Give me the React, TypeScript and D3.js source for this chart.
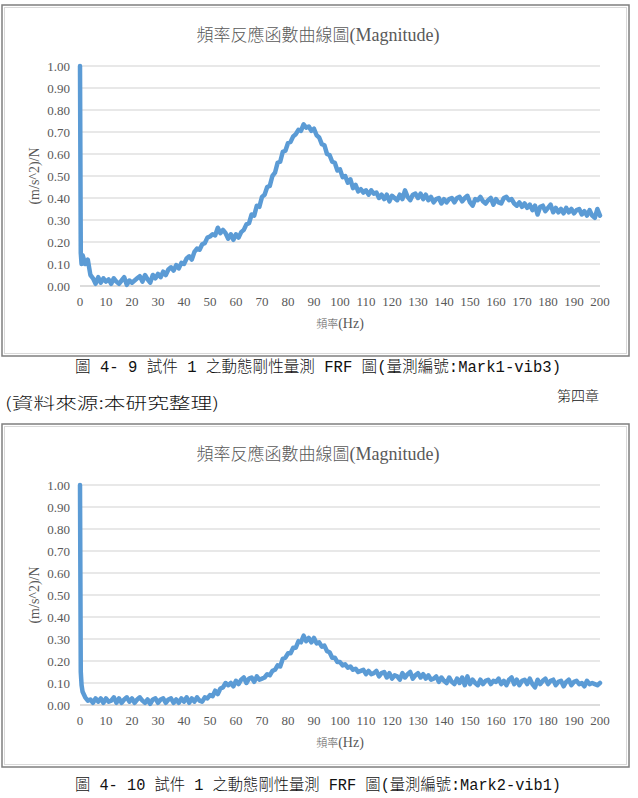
import React from "react";
import * as d3 from "d3";

const titleCJK = "頻率反應函數曲線圖";
const titleLatin = "(Magnitude)";
const yAxisTitle = "(m/s^2)/N";
const xAxisTitleCJK = "頻率";
const xAxisTitleLatin = "(Hz)";
const xTicks = [0, 10, 20, 30, 40, 50, 60, 70, 80, 90, 100, 110, 120, 130, 140, 150, 160, 170, 180, 190, 200];
const yTicks = [0, 0.1, 0.2, 0.3, 0.4, 0.5, 0.6, 0.7, 0.8, 0.9, 1.0];
const caption1 = "圖 4- 9 試件 1 之動態剛性量測 FRF 圖(量測編號:Mark1-vib3)";
const caption2 = "圖 4- 10 試件 1 之動態剛性量測 FRF 圖(量測編號:Mark2-vib1)";
const sourceNote = "(資料來源:本研究整理)";
const chapterNote = "第四章";

// low-frequency head (Hz) and values
const headFreq = [0, 0.3, 0.6];
const head1 = [1.0, 0.15, 0.1];
const head2 = [1.0, 0.15, 0.09];
// values at 1..200 Hz
const bodyFreq = d3.range(1, 201);
const series1 = [
  0.14, 0.10, 0.12, 0.05, 0.035, 0.01, 0.04, 0.015, 0.035, 0.02,
  0.03, 0.01, 0.035, 0.02, 0.01, 0.025, 0.04, 0.005, 0.025, 0.015,
  0.025, 0.035, 0.045, 0.02, 0.05, 0.03, 0.015, 0.05, 0.035, 0.055,
  0.04, 0.065, 0.05, 0.075, 0.085, 0.07, 0.095, 0.08, 0.105, 0.10,
  0.125, 0.135, 0.12, 0.155, 0.17, 0.165, 0.19, 0.195, 0.22, 0.225,
  0.235, 0.23, 0.265, 0.24, 0.255, 0.24, 0.215, 0.235, 0.21, 0.235,
  0.22, 0.245, 0.255, 0.28, 0.285, 0.325, 0.32, 0.365, 0.36, 0.405,
  0.415, 0.45, 0.455, 0.50, 0.515, 0.56, 0.565, 0.61, 0.615, 0.65,
  0.655, 0.68, 0.69, 0.71, 0.705, 0.735, 0.72, 0.725, 0.705, 0.715,
  0.685, 0.675, 0.645, 0.64, 0.60, 0.595, 0.565, 0.56, 0.525, 0.53,
  0.495, 0.50, 0.47, 0.485, 0.445, 0.46, 0.43, 0.44, 0.425, 0.435,
  0.415, 0.435, 0.42, 0.425, 0.40, 0.415, 0.395, 0.415, 0.385, 0.41,
  0.40, 0.39, 0.415, 0.395, 0.435, 0.405, 0.39, 0.415, 0.42, 0.40,
  0.42, 0.395, 0.415, 0.39, 0.405, 0.38, 0.395, 0.40, 0.375, 0.395,
  0.38, 0.395, 0.40, 0.38, 0.40, 0.405, 0.385, 0.40, 0.41, 0.38,
  0.365, 0.395, 0.39, 0.405, 0.385, 0.375, 0.39, 0.40, 0.37, 0.395,
  0.38, 0.375, 0.40, 0.405, 0.39, 0.395, 0.375, 0.365, 0.38, 0.36,
  0.375, 0.355, 0.37, 0.345, 0.365, 0.325, 0.36, 0.365, 0.34, 0.355,
  0.37, 0.335, 0.355, 0.335, 0.35, 0.33, 0.355, 0.335, 0.35, 0.33,
  0.345, 0.35, 0.325, 0.34, 0.32, 0.345, 0.32, 0.31, 0.35, 0.32,
];
const series2 = [
  0.06, 0.035, 0.02, 0.025, 0.01, 0.03, 0.015, 0.03, 0.01, 0.03,
  0.015, 0.02, 0.035, 0.01, 0.03, 0.01, 0.025, 0.035, 0.015, 0.03,
  0.01, 0.025, 0.035, 0.02, 0.01, 0.025, 0.005, 0.025, 0.03, 0.01,
  0.025, 0.03, 0.01, 0.025, 0.03, 0.01, 0.025, 0.01, 0.03, 0.015,
  0.035, 0.01, 0.03, 0.015, 0.035, 0.02, 0.015, 0.035, 0.03, 0.045,
  0.04, 0.065, 0.05, 0.075, 0.08, 0.10, 0.09, 0.10, 0.085, 0.11,
  0.095, 0.115, 0.125, 0.10, 0.12, 0.125, 0.105, 0.13, 0.115, 0.12,
  0.125, 0.14, 0.135, 0.155, 0.16, 0.18, 0.175, 0.21, 0.215, 0.235,
  0.235, 0.26, 0.26, 0.29, 0.285, 0.315, 0.29, 0.305, 0.285, 0.305,
  0.28, 0.285, 0.265, 0.27, 0.245, 0.24, 0.215, 0.215, 0.195, 0.195,
  0.18, 0.185, 0.17, 0.175, 0.16, 0.165, 0.15, 0.155, 0.16, 0.14,
  0.155, 0.14, 0.145, 0.155, 0.13, 0.145, 0.15, 0.125, 0.145, 0.12,
  0.135, 0.13, 0.115, 0.145, 0.125, 0.14, 0.15, 0.12, 0.135, 0.145,
  0.125, 0.14, 0.12, 0.135, 0.115, 0.12, 0.13, 0.105, 0.125, 0.11,
  0.10, 0.125, 0.105, 0.095, 0.12, 0.10, 0.125, 0.09, 0.13, 0.095,
  0.115, 0.10, 0.09, 0.115, 0.095, 0.11, 0.115, 0.095, 0.11, 0.105,
  0.12, 0.095, 0.11, 0.09, 0.115, 0.125, 0.095, 0.115, 0.09, 0.11,
  0.115, 0.095, 0.12, 0.095, 0.08, 0.115, 0.095, 0.11, 0.12, 0.095,
  0.11, 0.115, 0.09, 0.105, 0.11, 0.085, 0.105, 0.115, 0.09, 0.105,
  0.11, 0.095, 0.10, 0.085, 0.11, 0.095, 0.10, 0.095, 0.09, 0.10,
];

const W = 638;
const H = 798;
const LINE_COLOR = "#5B9BD5";
const TEXT_GRAY = "#595959";
const SERIF = "'Liberation Serif', 'Times New Roman', serif";
const CJK = "'Noto Sans CJK TC', 'Noto Sans CJK SC', sans-serif";

type ChartProps = { top: number; bottom: number; freqs: number[]; values: number[] };

function Chart({ top, bottom, freqs, values }: ChartProps) {
  const plotTop = top + 61;
  const plotBottom = top + 281;
  const x = d3.scaleLinear().domain([0, 200]).range([80, 600]);
  const y = d3.scaleLinear().domain([0, 1]).range([plotBottom, plotTop]);
  const pts = freqs.map((f, i) => [f, values[i]] as [number, number]);
  const line = d3
    .line<[number, number]>()
    .x((d) => x(d[0]))
    .y((d) => y(d[1]));
  return (
    <g>
      <rect x={2} y={top} width={627} height={bottom - top} fill="#fff" stroke="#7f7f7f" strokeWidth={1.5} />
      <rect x={4.5} y={top + 2.5} width={622} height={bottom - top - 5} fill="none" stroke="#d9d9d9" strokeWidth={1} />
      <text x={318} y={top + 36} textAnchor="middle" fill={TEXT_GRAY} fontSize={18}>
        <tspan fontFamily={CJK} fontSize={17} fontWeight={300}>{titleCJK}</tspan>
        <tspan fontFamily={SERIF}>{titleLatin}</tspan>
      </text>
      {yTicks.map((t) => (
        <g key={t}>
          <line x1={80} x2={600} y1={y(t)} y2={y(t)} stroke={t === 0 ? "#d0d0d0" : "#e0e0e0"} strokeWidth={1.3} />
          <text x={70} y={y(t)} dy="0.35em" textAnchor="end" fontFamily={SERIF} fontSize={13} fill={TEXT_GRAY}>
            {t.toFixed(2)}
          </text>
        </g>
      ))}
      {xTicks.map((t) => (
        <text key={t} x={x(t)} y={plotBottom + 20} textAnchor="middle" fontFamily={SERIF} fontSize={13} fill={TEXT_GRAY}>
          {t}
        </text>
      ))}
      <text
        transform={`translate(34, ${(plotTop + plotBottom) / 2}) rotate(-90)`}
        textAnchor="middle"
        dy="0.35em"
        fontFamily={SERIF}
        fontSize={14}
        fill={TEXT_GRAY}
      >
        {yAxisTitle}
      </text>
      <text x={340} y={plotBottom + 42} textAnchor="middle" fill={TEXT_GRAY} fontSize={14}>
        <tspan fontFamily={CJK} fontSize={11} fontWeight={300}>{xAxisTitleCJK}</tspan>
        <tspan fontFamily={SERIF}>{xAxisTitleLatin}</tspan>
      </text>
      <path d={line(pts) || ""} fill="none" stroke={LINE_COLOR} strokeWidth={4.5} strokeLinejoin="round" strokeLinecap="round" />
    </g>
  );
}

export default function App() {
  const f = headFreq.concat(bodyFreq);
  const v1 = head1.concat(series1);
  const v2 = head2.concat(series2);
  const capFont = "'Liberation Mono', 'Noto Sans CJK TC', monospace";
  return (
    <div style={{ position: "absolute", left: 0, top: 0 }}>
      <svg width={W} height={H} style={{ display: "block", background: "#fff" }}>
        <Chart top={5} bottom={356} freqs={f} values={v1} />
        <text x={318} y={372} textAnchor="middle" fontFamily={capFont} fontSize={16} fontWeight={300} fill="#111" textLength={486} lengthAdjust="spacingAndGlyphs">
          {caption1}
        </text>
        <text x={5} y={409} fontFamily={CJK} fontSize={16} fontWeight={300} fill="#111" textLength={214} lengthAdjust="spacingAndGlyphs">
          {sourceNote}
        </text>
        <text x={557} y={401} fontFamily={CJK} fontSize={14} fontWeight={300} fill="#111">
          {chapterNote}
        </text>
        <Chart top={424} bottom={767} freqs={f} values={v2} />
        <text x={318} y={790} textAnchor="middle" fontFamily={capFont} fontSize={16} fontWeight={300} fill="#111" textLength={486} lengthAdjust="spacingAndGlyphs">
          {caption2}
        </text>
      </svg>
    </div>
  );
}
